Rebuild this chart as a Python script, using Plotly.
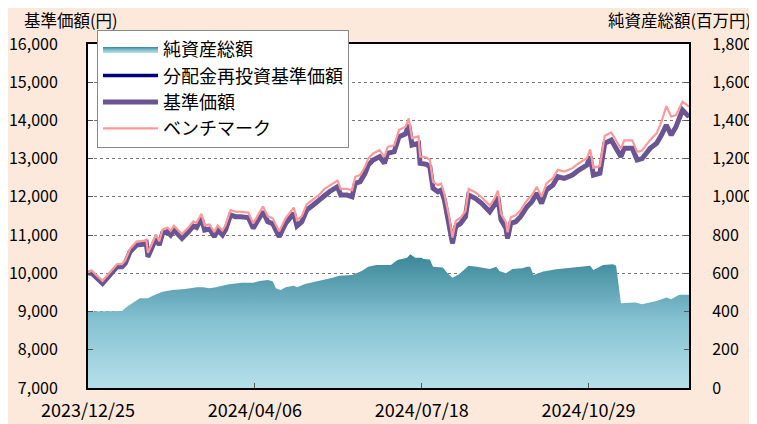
import plotly.graph_objects as go

# ---- data ----
nav_dates = ["2023-12-25","2023-12-27","2024-01-03","2024-01-10","2024-01-12","2024-01-15","2024-01-17","2024-01-20","2024-01-24","2024-01-29",
"2024-01-30","2024-01-31","2024-02-03","2024-02-05","2024-02-07","2024-02-09","2024-02-12","2024-02-14","2024-02-16","2024-02-21",
"2024-02-25","2024-02-28","2024-03-01","2024-03-04","2024-03-06","2024-03-09","2024-03-12","2024-03-14","2024-03-17","2024-03-19",
"2024-03-22","2024-03-25","2024-03-28","2024-03-31","2024-04-02","2024-04-05","2024-04-08","2024-04-11","2024-04-14","2024-04-17",
"2024-04-21","2024-04-25","2024-04-30","2024-05-02","2024-05-05","2024-05-08","2024-05-12","2024-05-16","2024-05-19","2024-05-22",
"2024-05-27","2024-05-29","2024-06-02","2024-06-05","2024-06-07","2024-06-10","2024-06-13","2024-06-15","2024-06-18","2024-06-22",
"2024-06-25","2024-06-27","2024-07-01","2024-07-04","2024-07-08","2024-07-10","2024-07-12","2024-07-16","2024-07-17","2024-07-21",
"2024-07-23","2024-07-25","2024-07-28","2024-07-30","2024-08-01","2024-08-04","2024-08-06","2024-08-08","2024-08-11","2024-08-14",
"2024-08-16","2024-08-20","2024-08-24","2024-08-29","2024-09-01","2024-09-03","2024-09-05","2024-09-08","2024-09-09","2024-09-11",
"2024-09-14","2024-09-17","2024-09-21","2024-09-24","2024-09-27","2024-09-30","2024-10-02","2024-10-03","2024-10-07","2024-10-10",
"2024-10-14","2024-10-19","2024-10-23","2024-10-28","2024-10-30","2024-11-01","2024-11-05","2024-11-08","2024-11-12","2024-11-14",
"2024-11-18","2024-11-20","2024-11-25","2024-11-28","2024-12-01","2024-12-06","2024-12-10","2024-12-13","2024-12-16","2024-12-19",
"2024-12-22","2024-12-26","2024-12-30"]

nav = [10000,10020,9739,10087,10173,10173,10262,10566,10741,10767,
10790,10435,10697,10916,10741,11047,11089,11003,11133,10916,
11089,11238,11200,11439,11133,11160,10958,11133,11003,11150,
11526,11481,11481,11470,11460,11178,11395,11612,11351,11300,
10958,11308,11570,11238,11350,11657,11787,11918,12049,12135,
12266,12049,12049,12004,12356,12400,12617,12834,12965,13051,
12878,13140,13182,13574,13650,13880,13357,13401,12878,12850,
12790,12224,12135,12180,11918,11308,10785,11221,11308,11481,
12049,11962,11831,11612,11800,12000,11395,11178,10916,11308,
11351,11481,11743,11874,12093,11831,12050,12180,12310,12528,
12485,12572,12703,12834,13051,12572,12617,13401,13487,13350,
13051,13270,13270,12965,13000,13270,13401,13618,13880,13618,
13836,14272,14097]

nav_reinvested = [10000,10020,9739,10087,10173,10173,10262,10566,10741,10767,
10790,10435,10697,10916,10741,11047,11089,11003,11133,10916,
11089,11238,11200,11439,11133,11160,10958,11133,11003,11150,
11526,11481,11481,11470,11460,11178,11395,11612,11351,11300,
10958,11308,11570,11238,11350,11657,11787,11918,12049,12135,
12266,12049,12049,12004,12356,12400,12617,12834,12965,13051,
12878,13140,13182,13574,13650,13880,13357,13401,12878,12850,
12790,12224,12135,12180,11918,11308,10785,11221,11308,11481,
12049,11962,11831,11612,11800,12000,11395,11178,10916,11308,
11351,11481,11743,11874,12093,11831,12050,12180,12310,12528,
12485,12572,12703,12834,13051,12572,12617,13401,13487,13350,
13051,13270,13270,12965,13000,13270,13401,13618,13880,13618,
13836,14272,14097]

benchmark = [10000,10080,9799,10157,10243,10243,10342,10646,10831,10857,
10880,10535,10797,11016,10841,11147,11199,11113,11243,11026,
11199,11358,11320,11559,11253,11280,11078,11253,11123,11270,
11656,11611,11611,11600,11590,11308,11525,11752,11491,11440,
11098,11448,11720,11388,11500,11807,11937,12068,12209,12295,
12426,12209,12209,12174,12526,12570,12787,13004,13135,13221,
13048,13310,13352,13754,13830,14055,13537,13581,13058,13030,
12970,12394,12305,12350,12078,11468,10935,11371,11458,11631,
12209,12122,11991,11772,11960,12160,11555,11338,11076,11468,
11521,11651,11913,12044,12263,12001,12220,12350,12490,12708,
12665,12752,12883,13014,13241,12762,12807,13601,13687,13550,
13261,13480,13480,13175,13210,13490,13662,13967,14377,14097,
14141,14490,14359]

aum_dates = ["2023-12-25","2024-01-15","2024-01-18","2024-01-22","2024-01-26","2024-01-31","2024-02-03","2024-02-09","2024-02-15","2024-02-23",
"2024-03-01","2024-03-05","2024-03-09","2024-03-13","2024-03-21","2024-03-29","2024-04-05","2024-04-09","2024-04-14","2024-04-17",
"2024-04-19","2024-04-22","2024-04-25","2024-04-30","2024-05-02","2024-05-07","2024-05-16","2024-05-24","2024-05-28","2024-06-05",
"2024-06-11","2024-06-15","2024-06-20","2024-06-29","2024-07-03","2024-07-09","2024-07-11","2024-07-14","2024-07-18","2024-07-19",
"2024-07-23","2024-07-25","2024-07-31","2024-08-03","2024-08-06","2024-08-10","2024-08-16","2024-08-21","2024-08-29","2024-09-02",
"2024-09-04","2024-09-08","2024-09-12","2024-09-18","2024-09-21","2024-09-23","2024-09-25","2024-10-01","2024-10-09","2024-10-19",
"2024-10-30","2024-11-01","2024-11-07","2024-11-13","2024-11-15","2024-11-18","2024-11-27","2024-12-01","2024-12-10","2024-12-16",
"2024-12-19","2024-12-24","2024-12-30"]

aum = [400,403,425,448,469,469,483,504,513,518,
527,527,522,527,543,551,551,560,565,558,
522,513,527,535,527,544,560,577,588,591,
612,635,644,644,670,682,700,682,682,675,
673,635,630,600,577,595,640,635,623,635,
612,600,623,626,635,635,591,609,621,630,
640,617,644,647,640,443,448,438,455,473,
465,488,488]

x_tickvals = ["2023-12-25", "2024-04-06", "2024-07-18", "2024-10-29"]
x_ticktext = ["2023/12/25", "2024/04/06", "2024/07/18", "2024/10/29"]

FONT = "Noto Sans CJK JP"

fig = go.Figure()

fig.add_trace(go.Scatter(
    x=aum_dates, y=aum, name="純資産総額", yaxis="y",
    mode="lines", line=dict(width=0, color="#4A96A8"),
    fill="tozeroy",
    fillgradient=dict(type="vertical",
                      colorscale=[[0, "#B6E0EA"], [0.5, "#86C2D2"], [1, "#3A8698"]]),
))
fig.add_trace(go.Scatter(
    x=nav_dates, y=nav_reinvested, name="分配金再投資基準価額", yaxis="y2",
    mode="lines", line=dict(width=3.5, color="#000080"),
))
fig.add_trace(go.Scatter(
    x=nav_dates, y=nav, name="基準価額", yaxis="y2",
    mode="lines", line=dict(width=5, color="#6B5494"),
))
fig.add_trace(go.Scatter(
    x=nav_dates, y=benchmark, name="ベンチマーク", yaxis="y2",
    mode="lines", line=dict(width=2.2, color="#FF9999"),
))

# the page body adds an 8px offset, so the figure is 749x416 and margins are shifted
fig.update_layout(
    width=749, height=416,
    margin=dict(l=80, r=68, t=36, b=36, autoexpand=False),
    paper_bgcolor="#FCE9DB",
    plot_bgcolor="white",
    font=dict(family=FONT, size=16, color="black"),
    showlegend=True,
    legend=dict(
        x=0.015, y=1.041, xanchor="left", yanchor="top",
        bgcolor="white", bordercolor="#888888", borderwidth=1,
        font=dict(family=FONT, size=18),
        itemwidth=55, tracegroupgap=0,
    ),
    xaxis=dict(
        type="date", automargin=False,
        range=["2023-12-25", "2024-12-30"],
        tickmode="array", tickvals=x_tickvals, ticktext=x_ticktext,
        ticks="inside", ticklen=5, tickcolor="#555555",
        showline=True, linecolor="black", linewidth=2, mirror=True,
        showgrid=False, zeroline=False,
        tickfont=dict(family=FONT, size=18),
        ticklabelstandoff=5,
    ),
    yaxis=dict(
        side="right", range=[0, 1800], dtick=200, tick0=0, automargin=False,
        tickformat=",d",
        ticks="inside", ticklen=5, tickcolor="#555555",
        showline=True, linecolor="black", linewidth=2,
        showgrid=False, zeroline=False,
        ticklabelstandoff=18,
    ),
    yaxis2=dict(
        overlaying="y", side="left", range=[7000, 16000], dtick=1000, tick0=7000,
        automargin=False,
        tickformat=",d",
        ticks="inside", ticklen=5, tickcolor="#555555",
        showline=True, linecolor="black", linewidth=2,
        showgrid=True, gridcolor="#777777", griddash="dot", gridwidth=1,
        zeroline=False,
        ticklabelstandoff=25,
    ),
    annotations=[
        dict(text="基準価額(円)", xref="paper", yref="paper",
             x=-0.11, y=1.069, xanchor="left", yanchor="middle",
             showarrow=False, font=dict(family=FONT, size=16.5)),
        dict(text="純資産総額(百万円)", xref="paper", yref="paper",
             x=1.106, y=1.069, xanchor="right", yanchor="middle",
             showarrow=False, font=dict(family=FONT, size=16.5)),
    ],
)

fig.write_html("out.html")
